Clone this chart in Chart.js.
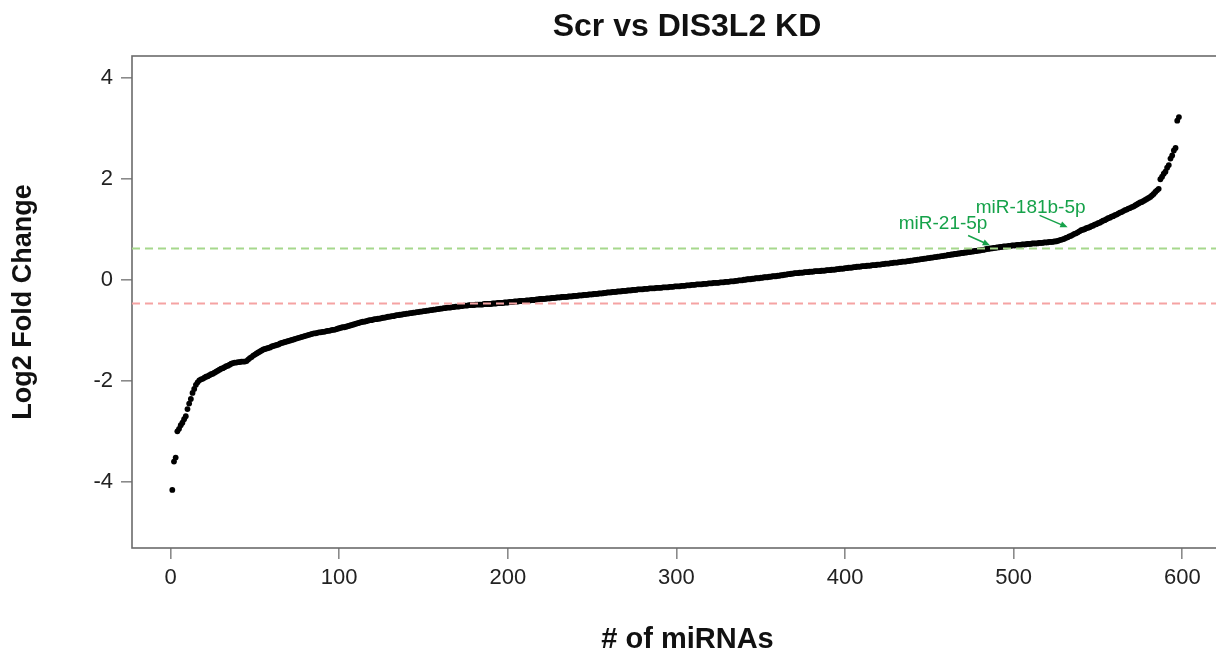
<!DOCTYPE html>
<html lang="en">
  <head>
    <meta charset="UTF-8" />
    <title>Scr vs DIS3L2 KD</title>
    <script src="https://cdn.jsdelivr.net/npm/chart.js"></script>
    <style>
      html, body { margin: 0; padding: 0; background: #fff; overflow: hidden; }
      #wrap { width: 1374px; height: 651px; }
    </style>
  </head>
  <body>
    <div id="wrap">
      <canvas id="rankChart" width="1374" height="651"></canvas>
    </div>

    <script>
      // log2 fold change per miRNA, sorted (rank 1..598)
      const lfcValues = [
        -4.16, -3.60, -3.52, -3.00, -2.95, -2.88, -2.83, -2.76, -2.70, -2.56,
        -2.45, -2.36, -2.24, -2.16, -2.08, -2.03, -1.99, -1.97, -1.96, -1.94,
        -1.92, -1.91, -1.89, -1.87, -1.86, -1.84, -1.82, -1.80, -1.78, -1.76,
        -1.75, -1.73, -1.71, -1.70, -1.68, -1.66, -1.65, -1.64, -1.64, -1.63,
        -1.63, -1.62, -1.62, -1.62, -1.61, -1.58, -1.55, -1.53, -1.50, -1.48,
        -1.46, -1.44, -1.42, -1.40, -1.38, -1.37, -1.36, -1.35, -1.34, -1.32,
        -1.31, -1.30, -1.29, -1.28, -1.26, -1.25, -1.24, -1.23, -1.22, -1.21,
        -1.20, -1.19, -1.18, -1.17, -1.16, -1.15, -1.14, -1.13, -1.12, -1.11,
        -1.10, -1.09, -1.08, -1.07, -1.06, -1.06, -1.05, -1.04, -1.04, -1.03,
        -1.03, -1.02, -1.01, -1.01, -1.00, -0.99, -0.99, -0.98, -0.97, -0.96,
        -0.95, -0.94, -0.94, -0.93, -0.92, -0.91, -0.90, -0.89, -0.88, -0.87,
        -0.86, -0.85, -0.84, -0.83, -0.83, -0.82, -0.81, -0.80, -0.80, -0.79,
        -0.78, -0.78, -0.77, -0.77, -0.76, -0.75, -0.75, -0.74, -0.73, -0.73,
        -0.72, -0.72, -0.71, -0.70, -0.70, -0.69, -0.69, -0.68, -0.68, -0.67,
        -0.67, -0.66, -0.66, -0.65, -0.65, -0.64, -0.64, -0.63, -0.63, -0.62,
        -0.62, -0.61, -0.61, -0.60, -0.60, -0.59, -0.59, -0.58, -0.58, -0.57,
        -0.57, -0.56, -0.56, -0.55, -0.55, -0.55, -0.54, -0.54, -0.53, -0.53,
        -0.53, -0.52, -0.52, -0.51, -0.51, -0.51, -0.50, -0.50, -0.50, -0.50,
        -0.49, -0.49, -0.49, -0.49, -0.49, -0.48, -0.48, -0.48, -0.48, -0.48,
        -0.47, -0.47, -0.47, -0.46, -0.46, -0.46, -0.46, -0.45, -0.45, -0.45,
        -0.44, -0.44, -0.44, -0.43, -0.43, -0.43, -0.42, -0.42, -0.42, -0.42,
        -0.41, -0.41, -0.41, -0.40, -0.40, -0.40, -0.39, -0.39, -0.38, -0.38,
        -0.38, -0.38, -0.37, -0.37, -0.37, -0.36, -0.36, -0.36, -0.35, -0.35,
        -0.35, -0.34, -0.34, -0.34, -0.34, -0.33, -0.33, -0.33, -0.32, -0.32,
        -0.32, -0.31, -0.31, -0.31, -0.30, -0.30, -0.30, -0.29, -0.29, -0.29,
        -0.28, -0.28, -0.28, -0.27, -0.27, -0.27, -0.26, -0.26, -0.25, -0.25,
        -0.25, -0.24, -0.24, -0.24, -0.23, -0.23, -0.23, -0.22, -0.22, -0.22,
        -0.21, -0.21, -0.21, -0.20, -0.20, -0.20, -0.19, -0.19, -0.19, -0.19,
        -0.18, -0.18, -0.18, -0.17, -0.17, -0.17, -0.17, -0.16, -0.16, -0.16,
        -0.16, -0.15, -0.15, -0.15, -0.15, -0.14, -0.14, -0.14, -0.13, -0.13,
        -0.13, -0.13, -0.12, -0.12, -0.12, -0.11, -0.11, -0.11, -0.10, -0.10,
        -0.10, -0.09, -0.09, -0.09, -0.09, -0.08, -0.08, -0.08, -0.07, -0.07,
        -0.07, -0.06, -0.06, -0.06, -0.06, -0.05, -0.05, -0.05, -0.04, -0.04,
        -0.04, -0.03, -0.03, -0.03, -0.02, -0.02, -0.01, -0.01, -0.01, 0.00,
        0.00, 0.01, 0.01, 0.01, 0.02, 0.02, 0.03, 0.03, 0.03, 0.04,
        0.04, 0.05, 0.05, 0.05, 0.06, 0.06, 0.07, 0.07, 0.07, 0.08,
        0.08, 0.09, 0.09, 0.10, 0.10, 0.11, 0.11, 0.12, 0.12, 0.13,
        0.13, 0.13, 0.14, 0.14, 0.14, 0.15, 0.15, 0.15, 0.16, 0.16,
        0.16, 0.17, 0.17, 0.17, 0.17, 0.18, 0.18, 0.18, 0.19, 0.19,
        0.19, 0.20, 0.20, 0.20, 0.21, 0.21, 0.22, 0.22, 0.22, 0.23,
        0.23, 0.24, 0.24, 0.24, 0.25, 0.25, 0.26, 0.26, 0.26, 0.27,
        0.27, 0.27, 0.28, 0.28, 0.28, 0.29, 0.29, 0.29, 0.30, 0.30,
        0.30, 0.31, 0.31, 0.32, 0.32, 0.32, 0.33, 0.33, 0.34, 0.34,
        0.34, 0.35, 0.35, 0.36, 0.36, 0.36, 0.37, 0.37, 0.38, 0.38,
        0.39, 0.39, 0.40, 0.40, 0.41, 0.41, 0.42, 0.42, 0.43, 0.43,
        0.44, 0.44, 0.45, 0.45, 0.46, 0.46, 0.47, 0.47, 0.48, 0.48,
        0.49, 0.49, 0.50, 0.50, 0.51, 0.51, 0.52, 0.52, 0.53, 0.53,
        0.54, 0.54, 0.55, 0.55, 0.56, 0.56, 0.57, 0.57, 0.58, 0.58,
        0.59, 0.59, 0.60, 0.61, 0.61, 0.62, 0.62, 0.63, 0.63, 0.64,
        0.64, 0.65, 0.65, 0.66, 0.66, 0.66, 0.67, 0.67, 0.68, 0.68,
        0.68, 0.69, 0.69, 0.69, 0.70, 0.70, 0.70, 0.71, 0.71, 0.71,
        0.72, 0.72, 0.72, 0.72, 0.73, 0.73, 0.73, 0.74, 0.74, 0.74,
        0.75, 0.75, 0.75, 0.76, 0.76, 0.77, 0.78, 0.79, 0.80, 0.81,
        0.83, 0.84, 0.86, 0.87, 0.89, 0.91, 0.92, 0.94, 0.96, 0.98,
        0.99, 1.00, 1.02, 1.03, 1.04, 1.06, 1.07, 1.09, 1.10, 1.12,
        1.13, 1.15, 1.17, 1.18, 1.20, 1.22, 1.23, 1.25, 1.26, 1.28,
        1.29, 1.31, 1.33, 1.34, 1.36, 1.38, 1.39, 1.41, 1.42, 1.44,
        1.45, 1.47, 1.49, 1.51, 1.53, 1.54, 1.56, 1.58, 1.60, 1.62,
        1.64, 1.67, 1.70, 1.74, 1.77, 1.80, 1.99, 2.04, 2.10, 2.14,
        2.22, 2.27, 2.40, 2.46, 2.56, 2.61, 3.15, 3.22,
      ];

      // cut-off lines
      const upCutoff = 0.62;
      const downCutoff = -0.47;

      // tick labels
      const xTicks = [0, 100, 200, 300, 400, 500, 600];
      const yTicks = [-4, -2, 0, 2, 4];

      // labelled miRNAs (rank in the sorted list)
      const labelNames = ["miR-21-5p", "miR-181b-5p"];
      const labelRanks = [486, 532];

      const xMin = -22.9;
      const xMax = 636;
      const yMin = -5.31;
      const yMax = 4.43;

      const points = lfcValues.map((v, i) => ({ x: i + 1, y: v }));

      const green = "#16a24a";

      // where the label text and arrow sit, relative to the point (px)
      const labelLayout = [
        { tip: [0, -3], tail: [-22, -13], text: [-47, -25] },
        { tip: [0, -10], tail: [-28, -22], text: [-37, -30] },
      ];

      // box around the plot + labels with arrows
      const plotDecor = {
        id: "plotDecor",
        beforeDatasetsDraw(chart) {
          const { ctx, chartArea: a } = chart;
          ctx.save();
          ctx.strokeStyle = "#6b6b6b";
          ctx.lineWidth = 1.6;
          ctx.strokeRect(a.left, a.top, a.right - a.left, a.bottom - a.top);
          ctx.restore();
        },
        afterDatasetsDraw(chart) {
          const { ctx, scales } = chart;
          ctx.save();
          ctx.strokeStyle = green;
          ctx.fillStyle = green;
          ctx.lineWidth = 1.5;
          ctx.font = "19px 'Liberation Sans', Arial, sans-serif";
          ctx.textAlign = "center";
          ctx.textBaseline = "middle";
          labelNames.forEach((name, k) => {
            const r = labelRanks[k];
            const px = scales.x.getPixelForValue(r);
            const py = scales.y.getPixelForValue(lfcValues[r - 1]);
            const L = labelLayout[k];
            const tx = px + L.tip[0], ty = py + L.tip[1];
            const sx = px + L.tail[0], sy = py + L.tail[1];
            const ang = Math.atan2(ty - sy, tx - sx);
            const h = 8;
            ctx.beginPath();
            ctx.moveTo(sx, sy);
            ctx.lineTo(tx - Math.cos(ang) * h * 0.8, ty - Math.sin(ang) * h * 0.8);
            ctx.stroke();
            ctx.beginPath();
            ctx.moveTo(tx, ty);
            ctx.lineTo(tx - h * Math.cos(ang - 0.4), ty - h * Math.sin(ang - 0.4));
            ctx.lineTo(tx - h * Math.cos(ang + 0.4), ty - h * Math.sin(ang + 0.4));
            ctx.closePath();
            ctx.fill();
            ctx.fillText(name, px + L.text[0], py + L.text[1]);
          });
          ctx.restore();
        },
      };

      const font = "'Liberation Sans', Arial, sans-serif";

      new Chart(document.getElementById("rankChart"), {
        type: "scatter",
        data: {
          datasets: [
            {
              label: "up",
              type: "line",
              data: [{ x: xMin, y: upCutoff }, { x: xMax, y: upCutoff }],
              borderColor: "#a6d88c",
              borderWidth: 2,
              borderDash: [8, 5],
              pointRadius: 0,
              order: 1,
            },
            {
              label: "down",
              type: "line",
              data: [{ x: xMin, y: downCutoff }, { x: xMax, y: downCutoff }],
              borderColor: "#f5a3a3",
              borderWidth: 2,
              borderDash: [8, 5],
              pointRadius: 0,
              order: 1,
            },
            {
              label: "miRNAs",
              data: points,
              backgroundColor: "#000",
              borderWidth: 0,
              pointRadius: 2.9,
              order: 2,
            },
          ],
        },
        options: {
          responsive: false,
          animation: false,
          events: [],
          layout: { padding: 0 },
          plugins: {
            legend: { display: false },
            tooltip: { enabled: false },
            title: {
              display: true,
              text: "Scr vs DIS3L2 KD",
              color: "#111",
              font: { family: font, size: 32, weight: "bold", lineHeight: 1.2 },
              padding: { top: 8, bottom: 9.6 },
            },
          },
          scales: {
            x: {
              type: "linear",
              min: xMin,
              max: xMax,
              afterBuildTicks(s) {
                s.ticks = xTicks.map((v) => ({ value: v }));
              },
              afterFit(s) {
                s.height = 103;
              },
              ticks: {
                color: "#222",
                font: { family: font, size: 22 },
                padding: 6,
                maxRotation: 0,
                autoSkip: false,
              },
              grid: {
                drawOnChartArea: false,
                drawTicks: true,
                tickLength: 11,
                tickColor: "#8a8a8a",
                lineWidth: 1.6,
              },
              border: { display: false },
              title: {
                display: true,
                text: "# of miRNAs",
                color: "#111",
                font: { family: font, size: 29, weight: "bold", lineHeight: 1 },
                padding: { top: 0, bottom: -3 },
              },
            },
            y: {
              type: "linear",
              min: yMin,
              max: yMax,
              afterBuildTicks(s) {
                s.ticks = yTicks.map((v) => ({ value: v }));
              },
              afterFit(s) {
                s.width = 132;
              },
              ticks: {
                color: "#222",
                font: { family: font, size: 22 },
                padding: 8,
                autoSkip: false,
              },
              grid: {
                drawOnChartArea: false,
                drawTicks: true,
                tickLength: 11,
                tickColor: "#8a8a8a",
                lineWidth: 1.6,
              },
              border: { display: false },
              title: {
                display: true,
                text: "Log2 Fold Change",
                color: "#111",
                font: { family: font, size: 27, weight: "bold", lineHeight: 1.2 },
                padding: { top: 7, bottom: 0 },
              },
            },
            yRight: {
              type: "linear",
              position: "right",
              display: true,
              afterFit(s) {
                s.width = 131;
              },
              ticks: { display: false },
              grid: { display: false },
              border: { display: false },
            },
          },
        },
        plugins: [plotDecor],
      });
    </script>
  </body>
</html>
